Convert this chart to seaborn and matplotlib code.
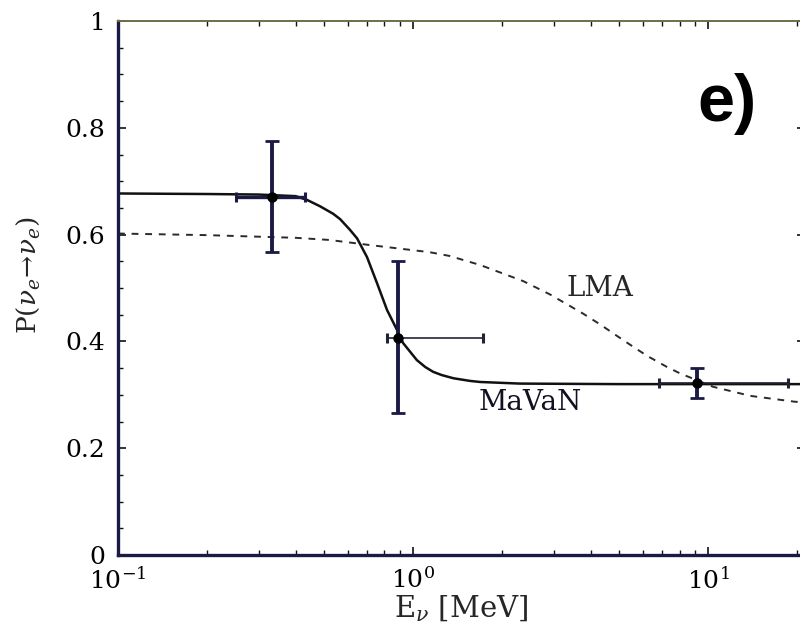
import numpy as np
import pandas as pd
import matplotlib
matplotlib.use("Agg")
import matplotlib.pyplot as plt
from matplotlib.ticker import LogLocator, MultipleLocator, FixedLocator, FixedFormatter, NullFormatter
import seaborn as sns

# Survival probability curves vs neutrino energy (MeV)
mavan_E = [0.1, 0.2, 0.3, 0.4, 0.437, 0.484, 0.536, 0.566, 0.611, 0.646, 0.698,
           0.755, 0.816, 0.883, 0.925, 1.03, 1.10, 1.17, 1.25, 1.37, 1.56, 1.69,
           2.3, 5.0, 21.3]
mavan_P = [0.677, 0.676, 0.675, 0.672, 0.665, 0.653, 0.639, 0.629, 0.609, 0.593,
           0.558, 0.509, 0.459, 0.421, 0.397, 0.365, 0.352, 0.343, 0.337, 0.331,
           0.326, 0.324, 0.321, 0.320, 0.320]

lma_E = [0.1, 0.2, 0.4, 0.52, 0.7, 1.14, 1.33, 1.69, 2.36, 2.91, 3.77, 4.3,
         4.92, 5.57, 6.21, 7.26, 8.04, 10.4, 13.9, 19.7, 21.3]
lma_P = [0.602, 0.599, 0.594, 0.590, 0.581, 0.567, 0.560, 0.543, 0.513, 0.488,
         0.452, 0.432, 0.410, 0.390, 0.373, 0.352, 0.340, 0.315, 0.298, 0.287, 0.286]

# Measured points with energy range and probability range
pt_E = [0.333, 0.89, 9.18]
pt_P = [0.670, 0.406, 0.322]
pt_E_lo = [0.251, 0.817, 6.82]
pt_E_hi = [0.431, 1.726, 18.7]
pt_P_lo = [0.567, 0.266, 0.294]
pt_P_hi = [0.775, 0.551, 0.350]

y_ticks = [0, 0.2, 0.4, 0.6, 0.8, 1.0]
y_tick_labels = ["0", "0.2", "0.4", "0.6", "0.8", "1"]

sns.set_style("ticks")
plt.rcParams["font.family"] = ["DejaVu Serif"]
plt.rcParams["mathtext.fontset"] = "dejavuserif"

W, H = 800, 626
fig = plt.figure(figsize=(W / 100, H / 100), dpi=100)
ax = fig.add_axes([118 / W, 71 / H, 687 / W, 534 / H])
ax.set_xscale("log")

navy = "#1a1a45"
mavan_df = pd.DataFrame({"E": mavan_E, "P": mavan_P})
lma_df = pd.DataFrame({"E": lma_E, "P": lma_P})

sns.lineplot(data=lma_df, x="E", y="P", ax=ax, color="#2a2a2a", lw=1.4,
             linestyle=(0, (3.5, 3.5)), sort=False)
sns.lineplot(data=mavan_df, x="E", y="P", ax=ax, color="#111111", lw=1.8, sort=False)

E = np.array(pt_E)
P = np.array(pt_P)
xerr = np.vstack([E - np.array(pt_E_lo), np.array(pt_E_hi) - E])
yerr = np.vstack([P - np.array(pt_P_lo), np.array(pt_P_hi) - P])

# vertical bars (thick) for all points
ax.errorbar(E, P, yerr=yerr, fmt="none", ecolor=navy, elinewidth=2.8,
            capsize=4.8, capthick=2.0, zorder=4)
# horizontal bars: first point thicker
ax.errorbar(E[:1], P[:1], xerr=xerr[:, :1], fmt="none", ecolor=navy,
            elinewidth=2.4, capsize=3.6, capthick=2.2, zorder=4)
ax.errorbar(E[1:], P[1:], xerr=xerr[:, 1:], fmt="none", ecolor="#222233",
            elinewidth=1.2, capsize=3.6, capthick=2.2, zorder=4)
ax.plot(E, P, "o", color="black", ms=6.5, zorder=5)

ax.set_xlim(0.1, 21.3)
ax.set_ylim(0, 1)

ax.xaxis.set_major_locator(LogLocator(base=10))
ax.xaxis.set_minor_locator(LogLocator(base=10, subs=np.arange(2, 10)))
ax.xaxis.set_minor_formatter(NullFormatter())
ax.yaxis.set_major_locator(FixedLocator(y_ticks))
ax.yaxis.set_major_formatter(FixedFormatter(y_tick_labels))
ax.yaxis.set_minor_locator(MultipleLocator(0.05))

ax.tick_params(which="both", direction="in", top=True, right=True,
               colors="#111111", labelcolor="black")
ax.tick_params(which="major", length=6, width=1.2, labelsize=18, pad=9)
ax.tick_params(which="minor", length=3.5, width=1.0)

for side in ("left", "bottom"):
    ax.spines[side].set_linewidth(2.4)
    ax.spines[side].set_color(navy)
ax.spines["top"].set_linewidth(1.4)
ax.spines["top"].set_color("#6f6f45")
ax.spines["right"].set_linewidth(1.2)
ax.spines["right"].set_color("#555555")

ax.set_xlabel("")
ax.set_ylabel("")
fig.text(28 / W, 1 - 275 / H, r"P($\nu_e\!\rightarrow\!\nu_e$)", rotation=90,
         ha="center", va="center", fontsize=19)
fig.text(461 / W, 1 - 609 / H, r"E$_\nu$ [MeV]", ha="center", va="center",
         fontsize=21)

ax.text(4.3, 0.50, "LMA", ha="center", va="center", fontsize=20)
ax.text(2.49, 0.285, "MaVaN", ha="center", va="center", fontsize=20, color="#111122")
ax.text(0.886, 0.845, "e)", transform=ax.transAxes, ha="center", va="center",
        fontsize=48, fontweight="bold", color="black",
        family=["Liberation Sans", "DejaVu Sans"])

fig.savefig("out.png", dpi=100)
